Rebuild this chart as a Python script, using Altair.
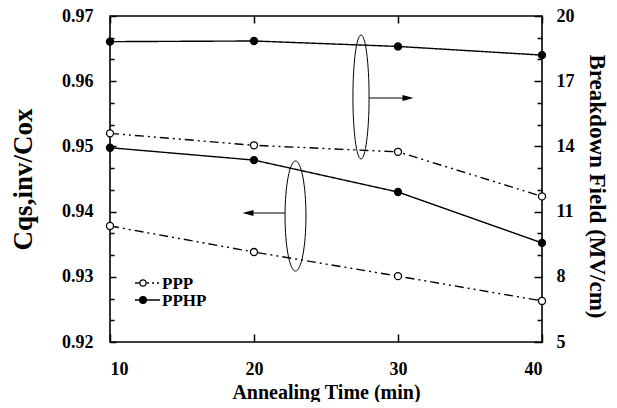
import altair as alt
import pandas as pd

# ---- data ----
times = [10, 20, 30, 40]
series_names = ["PPP", "PPHP"]
ppp_cqs = [0.9378, 0.9338, 0.9301, 0.9263]
pphp_cqs = [0.9498, 0.9479, 0.9430, 0.9352]
ppp_field = [14.6, 14.05, 13.75, 11.7]
pphp_field = [18.82, 18.85, 18.6, 18.2]

x_ticks = [10, 20, 30, 40]
left_ticks = [0.92, 0.93, 0.94, 0.95, 0.96, 0.97]
right_ticks = [5, 8, 11, 14, 17, 20]
right_minor = [6, 7, 9, 10, 12, 13, 15, 16, 18, 19]

FONT = "Liberation Serif"
W, H = 432, 326

df_left = pd.DataFrame({
    "time": times * 2,
    "value": ppp_cqs + pphp_cqs,
    "series": ["PPP"] * 4 + ["PPHP"] * 4,
})
df_right = pd.DataFrame({
    "time": times * 2,
    "value": ppp_field + pphp_field,
    "series": ["PPP"] * 4 + ["PPHP"] * 4,
})

xs = alt.Scale(domain=[10, 40], nice=False, zero=False)
ls = alt.Scale(domain=[0.92, 0.97], nice=False, zero=False)
rs = alt.Scale(domain=[5, 20], nice=False, zero=False)
dash_scale = alt.Scale(domain=series_names, range=[[9, 4, 2, 4, 2, 4], [1, 0]])
fill_scale = alt.Scale(domain=series_names, range=["white", "black"])

x_axis = alt.Axis(values=x_ticks, format="d", ticks=False, tickSize=0, domain=False, grid=False,
                  labelFont=FONT, labelFontSize=18, labelFontWeight="bold", labelPadding=18,
                  labelColor="black",
                  title="Annealing Time (min)", titleFont=FONT, titleFontSize=20, titleFontWeight="bold",
                  titleColor="black", titleX=W / 2, titleY=56, titleBaseline="alphabetic",
                  titleAlign="center")
left_axis = alt.Axis(values=left_ticks, format=".2f", ticks=False, tickSize=0, domain=False, grid=False,
                     labelFont=FONT, labelFontSize=18, labelFontWeight="bold", labelPadding=17,
                     labelColor="black",
                     title="Cqs,inv/Cox", titleFont=FONT, titleFontSize=27, titleFontWeight="bold",
                     titleColor="black", titleAngle=270, titleX=-87, titleY=H / 2,
                     titleBaseline="middle", titleAlign="center")
right_axis = alt.Axis(orient="right", values=right_ticks, format="d", ticks=False, tickSize=0,
                      domain=False, grid=False,
                      labelFont=FONT, labelFontSize=18, labelFontWeight="bold", labelPadding=14,
                      labelColor="black",
                      title="Breakdown Field (MV/cm)", titleFont=FONT, titleFontSize=23,
                      titleFontWeight="bold", titleColor="black", titleAngle=90, titleX=54,
                      titleY=170, titleBaseline="middle", titleAlign="center")


def tick_axis(orient, offset, values, size):
    """Label-less axis moved onto the opposite frame edge, so its ticks point inward."""
    return alt.Axis(orient=orient, offset=offset, values=values, labels=False, domain=False,
                    grid=False, title=None, ticks=True, tickSize=size, tickWidth=1.5,
                    tickColor="black", tickOpacity=1)


X_main = alt.X("time:Q", scale=xs, axis=x_axis)
X_none = alt.X("time:Q", scale=xs, axis=None)
X_tick_bottom = alt.X("time:Q", scale=xs, axis=tick_axis("top", -H, x_ticks, 8))
X_tick_top = alt.X("time:Q", scale=xs, axis=tick_axis("bottom", -H, x_ticks, 7))

LY = alt.Y("value:Q", scale=ls, axis=left_axis)
RY = alt.Y("value:Q", scale=rs, axis=right_axis)
RY_none = alt.Y("value:Q", scale=rs, axis=None)
RY_lmaj = alt.Y("value:Q", scale=rs, axis=tick_axis("right", -W, right_ticks, 6))
RY_lmin = alt.Y("value:Q", scale=rs, axis=tick_axis("right", -W, right_minor, 4))
RY_rmaj = alt.Y("value:Q", scale=rs, axis=tick_axis("left", -W, right_ticks, 8))
RY_rmin = alt.Y("value:Q", scale=rs, axis=tick_axis("left", -W, right_minor, 5))

# ---- left-axis series ----
base_l = alt.Chart(df_left)
line_l = base_l.mark_line(color="black", strokeWidth=1.4).encode(
    x=X_main, y=LY,
    strokeDash=alt.StrokeDash("series:N", scale=dash_scale, legend=None),
    detail="series:N",
)
pts_l = base_l.mark_point(shape="circle", size=50, filled=True, stroke="black", strokeWidth=1.3,
                          opacity=1, fillOpacity=1).encode(
    x=X_none, y=LY,
    fill=alt.Fill("series:N", scale=fill_scale, legend=None),
)
ghost_xb = base_l.mark_point(opacity=0).encode(x=X_tick_bottom, y=LY)
ghost_xt = base_l.mark_point(opacity=0).encode(x=X_tick_top, y=LY)
left_group = alt.layer(line_l, pts_l, ghost_xb, ghost_xt).resolve_axis(x="independent")

# ---- right-axis series ----
base_r = alt.Chart(df_right)
line_r = base_r.mark_line(color="black", strokeWidth=1.4).encode(
    x=X_none, y=RY,
    strokeDash=alt.StrokeDash("series:N", scale=dash_scale, legend=None),
    detail="series:N",
)
pts_r = base_r.mark_point(shape="circle", size=50, filled=True, stroke="black", strokeWidth=1.3,
                          opacity=1, fillOpacity=1).encode(
    x=X_none, y=RY_none,
    fill=alt.Fill("series:N", scale=fill_scale, legend=None),
)
ghosts_r = [base_r.mark_point(opacity=0).encode(x=X_none, y=yy)
            for yy in (RY_lmaj, RY_lmin, RY_rmaj, RY_rmin)]
right_group = alt.layer(line_r, pts_r, *ghosts_r).resolve_axis(y="independent")

# ---- annotations ----
one = pd.DataFrame({"a": [0]})


def ellipse_path(rx):
    k = 0.5523
    return (f"M 0 -1 C {k*rx:.4f} -1 {rx:.4f} {-k:.4f} {rx:.4f} 0 "
            f"C {rx:.4f} {k:.4f} {k*rx:.4f} 1 0 1 "
            f"C {-k*rx:.4f} 1 {-rx:.4f} {k:.4f} {-rx:.4f} 0 "
            f"C {-rx:.4f} {-k:.4f} {-k*rx:.4f} -1 0 -1 Z")


ell1 = alt.Chart(one).mark_point(shape=ellipse_path(0.19), size=110 * 110, filled=False,
                                 stroke="black", strokeWidth=1, opacity=1).encode(
    x=alt.value(185.5), y=alt.value(200))
ell2 = alt.Chart(one).mark_point(shape=ellipse_path(0.13), size=124 * 124, filled=False,
                                 stroke="black", strokeWidth=1, opacity=1).encode(
    x=alt.value(251), y=alt.value(81))
arr1 = alt.Chart(one).mark_rule(color="black", strokeWidth=1).encode(
    x=alt.value(175), x2=alt.value(142), y=alt.value(197))
head1 = alt.Chart(one).mark_point(shape="M -1 0 L 1 -0.55 L 1 0.55 Z", size=121, filled=True,
                                  color="black", opacity=1).encode(
    x=alt.value(138), y=alt.value(197))
arr2 = alt.Chart(one).mark_rule(color="black", strokeWidth=1).encode(
    x=alt.value(259), x2=alt.value(294), y=alt.value(82))
head2 = alt.Chart(one).mark_point(shape="M 1 0 L -1 -0.55 L -1 0.55 Z", size=121, filled=True,
                                  color="black", opacity=1).encode(
    x=alt.value(298), y=alt.value(82))

# ---- legend ----
lg1_a = alt.Chart(one).mark_rule(color="black", strokeWidth=1.4).encode(
    x=alt.value(25), x2=alt.value(30), y=alt.value(267))
lg1_b = alt.Chart(one).mark_rule(color="black", strokeWidth=1.4, strokeDash=[2, 3]).encode(
    x=alt.value(37), x2=alt.value(49), y=alt.value(267))
lg1_p = alt.Chart(one).mark_point(shape="circle", size=40, filled=True, fill="white", stroke="black",
                                  strokeWidth=1.3, opacity=1).encode(
    x=alt.value(33), y=alt.value(267))
lg1_t = alt.Chart(one).mark_text(text="PPP", font=FONT, fontSize=17, fontWeight="bold",
                                 align="left", baseline="middle", color="black").encode(
    x=alt.value(52), y=alt.value(268))
lg2_a = alt.Chart(one).mark_rule(color="black", strokeWidth=1.5).encode(
    x=alt.value(25), x2=alt.value(50), y=alt.value(284))
lg2_p = alt.Chart(one).mark_point(shape="circle", size=45, filled=True, fill="black", stroke="black",
                                  strokeWidth=1.3, opacity=1).encode(
    x=alt.value(33), y=alt.value(284))
lg2_t = alt.Chart(one).mark_text(text="PPHP", font=FONT, fontSize=17, fontWeight="bold",
                                 align="left", baseline="middle", color="black").encode(
    x=alt.value(52), y=alt.value(285))

chart = alt.layer(
    left_group, right_group,
    ell1, ell2, arr1, head1, arr2, head2,
    lg1_a, lg1_b, lg1_p, lg1_t, lg2_a, lg2_p, lg2_t,
).resolve_scale(
    y="independent"
).resolve_axis(
    x="independent", y="independent"
).properties(
    width=W, height=H,
    autosize=alt.AutoSizeParams(type="none"),
    padding={"left": 102, "top": 8, "right": 67, "bottom": 60},
    background="white",
).configure_view(
    stroke="black", strokeWidth=1.6
)

chart.save("out.html", embed_options={"renderer": "svg", "actions": False})
